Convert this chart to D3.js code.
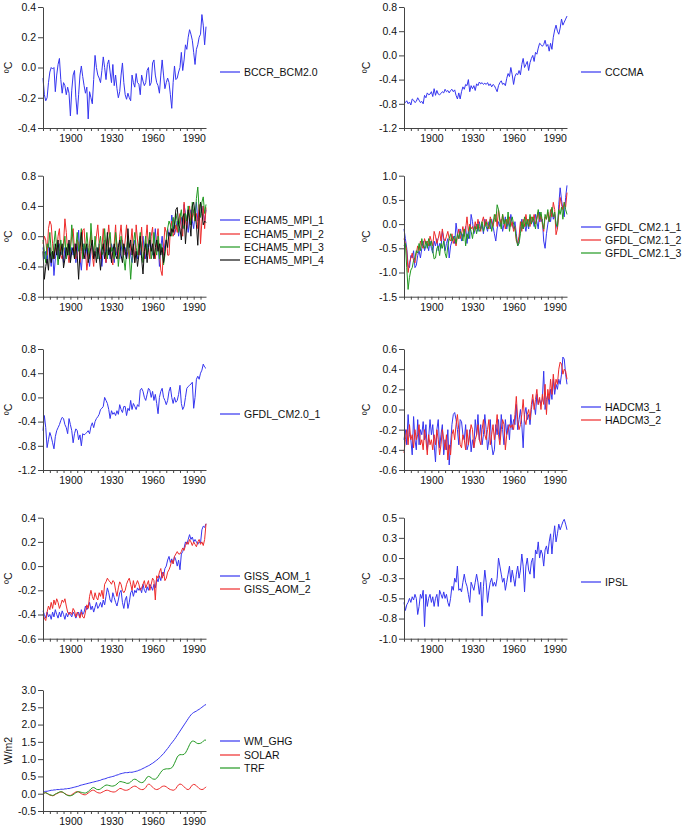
<!DOCTYPE html>
<html><head><meta charset="utf-8">
<script src="https://cdn.jsdelivr.net/npm/d3@7"></script>
<style>body{margin:0;background:#fff}svg{display:block;font-family:"Liberation Sans",Arial,sans-serif}</style>
</head><body><svg id="c" width="686" height="830"></svg>
<script>
// ---------- data ----------
const firstYear = 1880;
const xTickYears = [1900, 1930, 1960, 1990];

const bccr = [
-0.07,-0.18,-0.22,-0.2,-0.1,-0.03,0.0,-0.01,0.0,-0.16,
-0.05,0.02,0.06,-0.08,-0.17,-0.1,-0.12,-0.18,-0.13,-0.17,
-0.32,-0.15,-0.05,-0.02,-0.2,-0.31,-0.18,-0.05,0.01,-0.06,
-0.12,-0.17,-0.13,-0.34,-0.16,-0.2,-0.24,-0.08,0.08,0.0,
-0.05,-0.07,-0.1,-0.02,0.07,0.0,-0.08,0.02,0.05,-0.03,
-0.1,0.02,-0.12,-0.05,-0.14,-0.2,-0.16,-0.05,0.03,-0.1,
-0.18,-0.21,-0.17,-0.2,-0.22,-0.05,-0.1,-0.13,-0.04,-0.1,
-0.11,-0.18,-0.05,-0.09,-0.12,-0.1,-0.02,0.0,-0.12,-0.1,
0.03,0.05,-0.05,-0.1,-0.12,-0.17,-0.05,0.05,-0.05,-0.14,
-0.1,-0.07,-0.1,-0.18,-0.27,-0.1,0.01,-0.08,-0.07,-0.03,
0.0,0.1,-0.02,0.05,0.15,0.12,0.2,0.25,0.22,0.18,
0.1,0.02,0.12,0.15,0.2,0.22,0.35,0.28,0.15,0.27];

const cccma = [
-0.8,-0.78,-0.75,-0.8,-0.77,-0.82,-0.72,-0.74,-0.78,-0.76,
-0.7,-0.74,-0.78,-0.76,-0.8,-0.66,-0.7,-0.62,-0.65,-0.64,
-0.6,-0.68,-0.55,-0.66,-0.58,-0.64,-0.65,-0.63,-0.6,-0.62,
-0.56,-0.6,-0.58,-0.62,-0.58,-0.56,-0.6,-0.57,-0.66,-0.72,
-0.62,-0.72,-0.6,-0.52,-0.56,-0.48,-0.5,-0.4,-0.6,-0.5,
-0.55,-0.5,-0.58,-0.47,-0.5,-0.44,-0.47,-0.45,-0.48,-0.46,
-0.48,-0.45,-0.5,-0.47,-0.52,-0.48,-0.5,-0.55,-0.6,-0.5,
-0.45,-0.42,-0.48,-0.46,-0.5,-0.38,-0.3,-0.35,-0.2,-0.32,
-0.48,-0.35,-0.3,-0.32,-0.25,-0.32,-0.15,-0.05,-0.2,-0.15,
-0.1,-0.25,-0.12,-0.05,0.0,-0.1,0.05,0.02,0.12,0.2,
0.18,0.15,0.18,0.25,0.15,0.18,0.07,0.2,0.1,0.3,
0.42,0.5,0.4,0.35,0.45,0.6,0.5,0.55,0.6,0.65];

const echam1 = [
-0.15,-0.3,-0.2,-0.35,-0.1,-0.25,-0.4,-0.2,-0.52,-0.3,
-0.15,-0.3,-0.1,-0.25,-0.2,-0.35,-0.15,-0.3,-0.2,-0.1,
-0.3,-0.15,-0.25,-0.1,-0.35,-0.2,0.08,-0.3,-0.45,-0.2,
-0.1,-0.3,-0.15,-0.25,-0.4,-0.2,-0.1,-0.3,-0.2,-0.15,
-0.3,-0.1,-0.25,-0.4,-0.2,-0.05,-0.35,-0.2,-0.15,-0.3,
-0.1,-0.2,-0.35,-0.15,-0.25,-0.1,-0.3,-0.2,-0.05,-0.25,
-0.15,-0.3,-0.2,-0.1,-0.25,-0.35,-0.15,-0.05,-0.2,-0.3,
-0.1,-0.25,-0.15,0.0,-0.2,-0.3,-0.1,-0.2,0.05,-0.15,
-0.25,-0.1,0.1,-0.2,-0.05,-0.4,-0.15,0.0,-0.25,-0.1,
-0.05,0.1,0.0,0.05,0.28,0.15,0.02,0.1,0.2,0.0,
0.15,0.25,0.1,0.42,0.3,0.2,0.05,0.25,0.35,0.2,
0.1,0.3,0.45,0.2,0.35,0.25,0.4,0.3,0.2,0.35];

const echam2 = [
-0.1,0.0,-0.05,-0.25,0.1,0.2,0.15,-0.1,-0.3,-0.15,
-0.2,0.0,0.1,-0.25,-0.3,-0.1,0.23,0.05,-0.2,-0.35,
-0.15,0.0,0.1,-0.2,-0.3,-0.05,-0.1,-0.35,-0.2,0.08,
0.1,-0.2,-0.45,-0.3,-0.1,0.05,-0.25,-0.4,-0.15,0.0,
0.15,-0.1,-0.3,-0.15,0.1,-0.2,-0.35,-0.05,0.15,-0.1,
-0.3,-0.38,-0.1,0.15,-0.2,-0.3,0.0,0.15,-0.1,-0.25,
-0.05,0.15,-0.15,-0.3,-0.1,0.1,-0.2,-0.35,0.15,-0.05,
-0.25,-0.1,0.12,-0.2,-0.3,-0.05,0.15,-0.15,-0.3,0.0,
0.12,-0.2,-0.3,-0.05,0.1,-0.2,-0.45,-0.52,-0.15,0.12,
0.05,-0.25,-0.25,0.1,0.2,0.0,0.05,0.15,0.05,0.2,
0.3,0.1,0.0,0.45,0.2,0.1,0.3,0.4,0.15,0.25,
0.35,0.2,0.3,0.1,0.42,-0.1,0.2,0.4,0.1,0.38];

const echam3 = [
-0.05,-0.2,-0.35,-0.1,-0.15,0.05,-0.2,-0.3,-0.1,0.07,
-0.15,-0.38,-0.2,-0.05,-0.25,-0.15,0.0,-0.3,-0.1,-0.25,
-0.2,0.15,-0.1,-0.3,-0.15,0.05,-0.2,-0.1,0.1,-0.3,
-0.1,-0.2,0.05,-0.15,-0.3,0.17,-0.1,-0.25,0.0,-0.2,
-0.3,-0.1,0.0,-0.25,-0.2,0.1,-0.15,-0.3,-0.05,0.05,
-0.2,-0.15,-0.3,0.05,-0.1,-0.4,-0.2,0.0,-0.15,-0.3,
-0.45,-0.2,0.0,-0.25,-0.57,-0.3,-0.1,0.05,-0.15,-0.25,
-0.1,0.05,-0.2,-0.35,-0.15,0.0,-0.25,-0.1,0.05,-0.3,
-0.2,0.05,-0.15,-0.25,0.0,-0.3,-0.1,-0.2,-0.38,-0.25,
-0.05,0.1,0.2,0.15,0.0,0.25,0.1,0.3,0.2,0.05,
0.25,0.35,0.15,0.1,0.3,0.2,0.4,0.25,0.15,0.45,
0.3,0.2,0.5,0.65,0.35,0.25,0.45,0.52,0.3,0.42];

const echam4 = [
-0.2,-0.57,-0.4,-0.3,-0.45,-0.15,-0.35,-0.2,-0.3,-0.1,
-0.25,-0.05,-0.3,-0.2,-0.1,-0.42,-0.3,-0.15,-0.25,-0.05,
-0.35,-0.2,-0.15,-0.3,-0.1,-0.25,-0.57,-0.2,0.05,-0.15,
-0.3,-0.2,-0.1,-0.35,-0.25,-0.15,-0.05,-0.3,-0.2,-0.35,
-0.15,-0.25,-0.45,-0.2,-0.1,-0.3,-0.2,0.05,-0.25,-0.15,
-0.35,-0.2,-0.1,-0.25,-0.3,-0.15,-0.05,-0.25,-0.35,-0.1,
-0.2,-0.3,0.1,-0.15,-0.05,-0.25,-0.1,-0.35,-0.2,-0.4,
-0.25,0.0,-0.3,-0.5,-0.2,-0.1,-0.35,-0.15,-0.05,-0.2,
-0.1,-0.3,-0.15,-0.05,-0.2,-0.1,-0.25,-0.15,-0.35,-0.2,
-0.05,-0.15,0.05,0.0,0.1,0.05,0.15,0.35,0.38,0.15,
0.1,-0.05,0.25,0.3,-0.1,0.15,0.35,0.2,0.0,0.4,
0.45,0.3,0.15,-0.12,0.25,0.45,0.3,0.15,0.2,0.18];

const gfdl21_1 = [
-0.1,-0.3,-0.5,-0.85,-0.9,-0.65,-0.7,-0.55,-0.9,-0.85,
-0.65,-0.55,-0.7,-0.5,-0.35,-0.55,-0.45,-0.4,-0.55,-0.35,
-0.5,-0.6,-0.35,-0.45,-0.3,-0.55,-0.4,-0.5,-0.15,-0.3,
-0.55,-0.4,-0.3,-0.7,-0.45,-0.35,-0.25,-0.4,0.02,-0.2,
-0.3,-0.1,-0.35,-0.2,-0.25,-0.05,-0.4,-0.15,-0.3,0.2,
0.05,-0.2,-0.1,0.0,-0.15,0.05,-0.1,0.0,-0.2,0.1,
-0.05,-0.15,0.05,-0.1,0.1,-0.05,-0.2,-0.35,-0.1,0.05,
-0.05,0.1,-0.15,0.0,0.15,-0.1,0.05,-0.05,0.2,0.0,
-0.1,0.05,-0.2,-0.45,-0.35,-0.05,0.1,-0.1,0.0,-0.15,
0.05,-0.1,0.15,0.0,0.1,-0.05,0.2,0.05,-0.1,0.25,
0.05,0.1,-0.35,-0.5,-0.2,0.0,0.15,0.05,0.3,0.1,
0.2,0.0,-0.1,0.4,0.75,0.5,0.3,0.15,0.55,0.8];

const gfdl21_2 = [
-0.3,-0.4,-0.55,-1.0,-0.8,-0.7,-0.6,-0.75,-0.8,-0.6,
-0.45,-0.55,-0.35,-0.45,-0.5,-0.3,-0.4,-0.35,-0.45,-0.25,
-0.35,-0.45,-0.15,-0.25,-0.4,-0.3,-0.15,-0.35,-0.1,-0.3,
-0.35,-0.25,-0.15,-0.3,-0.35,-0.2,-0.4,-0.3,-0.45,-0.25,
-0.1,-0.3,-0.2,-0.05,-0.25,-0.1,0.15,-0.15,0.0,-0.1,
-0.05,-0.15,0.05,-0.1,0.1,-0.05,-0.15,0.05,0.15,-0.05,
0.1,0.0,-0.1,0.15,0.05,-0.05,0.1,0.2,-0.05,0.3,
0.1,0.0,0.2,0.05,-0.1,0.1,0.0,0.15,-0.05,0.05,
-0.15,-0.05,-0.35,-0.4,-0.25,0.05,-0.15,0.1,-0.05,0.2,
0.0,0.1,-0.05,0.15,0.05,0.2,0.0,0.1,0.25,0.05,
0.2,0.0,-0.15,0.15,0.1,0.25,0.05,0.3,0.15,0.45,
0.3,-0.22,-0.1,0.2,0.55,0.4,0.3,0.45,0.35,0.65];

const gfdl21_3 = [
-0.45,-0.4,-0.9,-1.35,-1.1,-0.95,-0.9,-0.75,-0.7,-0.55,
-0.6,-0.4,-0.55,-0.3,-0.45,-0.5,-0.35,-0.5,-0.3,-0.45,
-0.35,-0.55,-0.72,-0.7,-0.5,-0.45,-0.65,-0.4,-0.5,-0.35,
-0.6,-0.7,-0.45,-0.3,-0.2,-0.35,-0.3,-0.25,-0.4,-0.2,
-0.3,-0.15,-0.2,-0.35,-0.1,-0.45,-0.2,-0.3,-0.05,-0.15,
-0.3,-0.1,-0.05,-0.2,0.0,-0.15,-0.1,0.05,-0.15,-0.05,
0.05,-0.1,-0.05,0.1,-0.15,0.0,0.2,0.05,0.4,0.3,
0.05,-0.1,0.2,0.0,0.1,-0.05,0.25,-0.15,0.05,0.15,
0.0,-0.1,-0.3,-0.45,-0.4,-0.2,0.05,-0.1,0.15,-0.05,
0.1,-0.05,0.2,0.0,0.15,0.05,-0.1,0.15,0.3,0.1,
0.25,0.05,-0.1,0.2,0.1,0.3,0.05,0.2,0.35,0.15,
0.25,0.0,-0.05,0.3,0.2,0.35,0.1,0.45,0.3,0.2];

const gfdl20 = [
-0.55,-0.3,-0.5,-0.83,-0.7,-0.58,-0.65,-0.75,-0.85,-0.65,
-0.55,-0.5,-0.45,-0.38,-0.33,-0.35,-0.45,-0.5,-0.6,-0.35,
-0.45,-0.55,-0.75,-0.6,-0.52,-0.55,-0.7,-0.62,-0.8,-0.6,
-0.62,-0.6,-0.58,-0.55,-0.6,-0.48,-0.42,-0.5,-0.4,-0.35,
-0.32,-0.28,-0.2,-0.18,-0.15,0.0,-0.05,-0.1,-0.2,-0.35,
-0.22,-0.28,-0.25,-0.3,-0.22,-0.28,-0.12,-0.2,-0.25,-0.15,
-0.15,-0.3,-0.18,-0.22,-0.05,-0.2,-0.1,-0.15,-0.2,-0.12,
-0.15,0.12,0.15,0.1,0.0,-0.05,0.05,0.15,0.12,0.0,
0.1,-0.05,0.05,-0.1,-0.27,0.0,0.1,0.15,0.0,-0.05,
-0.12,-0.05,0.1,0.17,0.0,-0.1,0.0,-0.08,-0.05,0.05,
0.2,-0.1,-0.2,-0.15,0.0,0.15,0.18,0.2,0.22,0.25,
-0.18,0.0,0.3,0.35,0.3,0.4,0.45,0.55,0.5,0.48];

const hadcm3_1 = [
-0.3,-0.2,-0.35,-0.05,-0.25,-0.3,-0.45,-0.07,-0.3,-0.4,
-0.1,-0.35,-0.2,-0.25,-0.12,-0.3,-0.15,-0.4,-0.28,-0.1,
-0.25,-0.15,-0.35,-0.52,-0.2,-0.1,-0.38,-0.25,-0.15,-0.45,
-0.3,-0.4,-0.2,-0.55,-0.35,-0.15,-0.05,-0.03,-0.1,-0.2,
-0.35,-0.1,-0.12,-0.25,-0.3,-0.15,-0.4,-0.35,-0.2,-0.42,
-0.3,-0.38,-0.1,-0.25,-0.05,-0.3,-0.15,-0.35,-0.25,-0.05,
-0.2,-0.4,-0.3,-0.1,-0.35,-0.45,-0.4,-0.15,-0.25,-0.1,
-0.3,-0.05,-0.2,-0.35,-0.1,-0.25,-0.15,-0.3,-0.05,-0.2,
-0.1,-0.15,0.05,-0.2,-0.1,0.0,-0.15,-0.38,-0.05,0.02,
-0.1,-0.05,-0.15,0.0,0.1,0.05,-0.05,0.15,0.05,0.1,
0.05,0.1,0.38,0.0,0.1,0.15,0.05,0.2,0.1,0.3,
0.15,0.25,0.2,0.3,0.25,0.35,0.52,0.5,0.35,0.25];

const hadcm3_2 = [
-0.43,-0.3,-0.2,-0.35,-0.15,-0.3,-0.25,-0.38,-0.2,-0.3,
-0.25,-0.15,-0.35,-0.3,-0.4,-0.2,-0.3,-0.45,-0.25,-0.35,
-0.3,-0.4,-0.25,-0.35,-0.2,-0.3,-0.45,-0.35,-0.2,-0.3,
-0.4,-0.25,-0.5,-0.35,-0.45,-0.25,-0.2,-0.3,-0.15,-0.05,
-0.2,-0.35,-0.38,-0.25,-0.3,-0.4,-0.2,-0.35,-0.25,-0.15,
-0.2,-0.38,-0.3,-0.25,-0.15,-0.3,-0.35,-0.2,-0.1,-0.25,
-0.3,-0.2,-0.1,-0.35,-0.25,-0.15,-0.3,-0.2,-0.05,-0.25,
-0.35,-0.2,-0.1,-0.15,-0.4,-0.25,-0.2,-0.15,-0.18,-0.15,
-0.2,-0.05,0.13,-0.1,-0.2,-0.15,-0.05,0.1,-0.1,-0.15,
-0.05,0.0,-0.1,0.05,0.15,0.0,0.1,0.2,0.05,0.12,
0.0,0.15,0.05,0.25,-0.05,0.2,0.1,0.3,0.15,0.35,
0.2,0.3,0.25,0.4,0.47,0.45,0.35,0.4,0.38,0.3];

const giss1 = [
-0.37,-0.4,-0.43,-0.38,-0.42,-0.4,-0.44,-0.38,-0.42,-0.36,
-0.4,-0.43,-0.38,-0.42,-0.37,-0.4,-0.44,-0.39,-0.42,-0.38,
-0.4,-0.42,-0.38,-0.4,-0.43,-0.4,-0.38,-0.42,-0.36,-0.4,
-0.38,-0.33,-0.36,-0.34,-0.3,-0.36,-0.33,-0.38,-0.34,-0.3,
-0.35,-0.33,-0.3,-0.34,-0.28,-0.32,-0.25,-0.18,-0.22,-0.28,
-0.3,-0.22,-0.26,-0.3,-0.33,-0.28,-0.22,-0.2,-0.3,-0.35,
-0.28,-0.25,-0.35,-0.3,-0.22,-0.2,-0.25,-0.2,-0.22,-0.18,
-0.2,-0.18,-0.22,-0.15,-0.2,-0.22,-0.17,-0.2,-0.15,-0.17,
-0.2,-0.15,-0.18,-0.1,-0.13,-0.08,-0.12,-0.05,-0.08,-0.02,
0.0,0.05,0.08,0.03,0.06,0.02,0.08,0.05,0.0,0.05,
-0.03,0.1,0.12,0.15,0.2,0.18,0.22,0.26,0.22,0.24,
0.2,0.22,0.2,0.18,0.2,0.19,0.3,0.33,0.32,0.35];

const giss2 = [
-0.4,-0.43,-0.45,-0.38,-0.33,-0.36,-0.3,-0.35,-0.28,-0.32,
-0.27,-0.3,-0.35,-0.32,-0.28,-0.3,-0.27,-0.33,-0.38,-0.4,
-0.38,-0.4,-0.35,-0.37,-0.42,-0.38,-0.4,-0.43,-0.38,-0.42,
-0.43,-0.38,-0.32,-0.35,-0.25,-0.2,-0.25,-0.28,-0.22,-0.26,
-0.28,-0.22,-0.25,-0.2,-0.27,-0.15,-0.13,-0.1,-0.12,-0.13,
-0.15,-0.12,-0.13,-0.2,-0.25,-0.18,-0.13,-0.15,-0.2,-0.22,
-0.2,-0.15,-0.12,-0.1,-0.15,-0.2,-0.12,-0.18,-0.15,-0.12,
-0.15,-0.2,-0.18,-0.15,-0.12,-0.18,-0.15,-0.12,-0.2,-0.15,
-0.1,-0.12,-0.28,-0.08,-0.1,-0.05,-0.02,-0.1,-0.05,-0.12,
-0.1,-0.05,-0.03,0.0,0.05,0.02,0.08,0.1,0.12,0.1,
0.1,0.12,0.15,0.13,0.17,0.2,0.18,0.22,0.2,0.17,
0.2,0.18,0.16,0.2,0.22,0.18,0.2,0.17,0.22,0.35];

const ipsl = [
-0.55,-0.65,-0.58,-0.55,-0.5,-0.55,-0.48,-0.52,-0.45,-0.5,
-0.7,-0.6,-0.45,-0.5,-0.4,-0.85,-0.45,-0.6,-0.5,-0.45,
-0.55,-0.48,-0.6,-0.5,-0.45,-0.6,-0.4,-0.45,-0.5,-0.42,
-0.5,-0.45,-0.55,-0.6,-0.5,-0.35,-0.4,-0.25,-0.3,-0.1,
-0.4,-0.38,-0.42,-0.3,-0.2,-0.3,-0.35,-0.45,-0.55,-0.3,
-0.35,-0.4,-0.3,-0.2,-0.3,-0.45,-0.3,-0.72,-0.35,-0.15,
-0.3,-0.55,-0.4,-0.3,-0.25,-0.35,-0.3,-0.35,-0.25,0.0,
-0.1,-0.2,-0.3,-0.25,-0.4,-0.3,-0.2,-0.1,-0.3,-0.15,
-0.25,-0.35,-0.2,-0.1,-0.25,-0.15,0.05,-0.1,-0.42,-0.1,
0.0,-0.15,-0.2,-0.05,0.0,-0.25,0.1,0.05,0.2,0.0,
0.1,0.05,-0.1,0.1,0.15,0.05,0.2,0.3,0.05,0.25,
0.4,0.2,0.3,0.42,0.35,0.4,0.45,0.48,0.42,0.35];

const wmghg = [
0.05,0.06,0.07,0.07,0.08,0.09,0.1,0.1,0.11,0.11,
0.12,0.12,0.12,0.13,0.13,0.13,0.14,0.14,0.15,0.15,
0.16,0.17,0.18,0.19,0.2,0.21,0.22,0.24,0.25,0.26,
0.27,0.28,0.29,0.3,0.31,0.32,0.33,0.34,0.35,0.36,
0.37,0.38,0.39,0.41,0.42,0.43,0.44,0.46,0.47,0.48,
0.49,0.5,0.51,0.53,0.54,0.55,0.57,0.58,0.59,0.6,
0.61,0.61,0.61,0.62,0.62,0.62,0.63,0.64,0.65,0.66,
0.68,0.69,0.71,0.73,0.75,0.77,0.79,0.81,0.83,0.86,
0.88,0.91,0.94,0.97,1.0,1.04,1.08,1.12,1.16,1.21,
1.26,1.31,1.36,1.42,1.47,1.52,1.57,1.63,1.69,1.75,
1.81,1.87,1.93,1.99,2.05,2.11,2.17,2.23,2.28,2.32,
2.35,2.37,2.39,2.42,2.44,2.47,2.5,2.53,2.56,2.58];

const solar = [
0.0,0.02,0.03,0.01,-0.02,-0.04,-0.05,-0.06,-0.05,-0.02,
0.0,0.02,0.04,0.05,0.05,0.03,0.0,-0.02,-0.04,-0.05,
-0.05,-0.03,0.0,0.03,0.05,0.06,0.05,0.03,0.0,-0.02,
-0.03,-0.03,-0.01,0.02,0.05,0.08,0.1,0.1,0.08,0.05,
0.03,0.02,0.02,0.04,0.06,0.08,0.1,0.1,0.09,0.07,
0.06,0.05,0.05,0.06,0.09,0.12,0.15,0.15,0.13,0.11,
0.1,0.1,0.11,0.13,0.16,0.19,0.21,0.22,0.21,0.18,
0.15,0.13,0.12,0.12,0.14,0.18,0.24,0.28,0.27,0.23,
0.19,0.15,0.13,0.12,0.13,0.15,0.18,0.21,0.22,0.22,
0.2,0.17,0.14,0.12,0.11,0.1,0.11,0.15,0.21,0.26,
0.28,0.27,0.24,0.2,0.16,0.13,0.12,0.14,0.2,0.25,
0.27,0.26,0.23,0.19,0.15,0.13,0.12,0.13,0.16,0.2];

const trf = [
0.0,0.02,0.03,0.01,-0.01,-0.03,-0.04,-0.05,-0.04,-0.01,
0.01,0.03,0.05,0.06,0.05,0.03,0.0,-0.03,-0.05,-0.06,
-0.06,-0.05,-0.03,0.0,0.03,0.05,0.06,0.05,0.04,0.03,
0.02,0.02,0.04,0.06,0.1,0.14,0.17,0.18,0.16,0.13,
0.12,0.12,0.14,0.17,0.2,0.23,0.25,0.25,0.24,0.23,
0.22,0.22,0.23,0.25,0.28,0.32,0.35,0.35,0.34,0.33,
0.32,0.3,0.3,0.31,0.34,0.38,0.41,0.42,0.41,0.38,
0.35,0.33,0.32,0.33,0.36,0.42,0.48,0.5,0.49,0.46,
0.43,0.42,0.42,0.45,0.5,0.56,0.62,0.67,0.7,0.71,
0.72,0.72,0.72,0.73,0.75,0.8,0.88,0.97,1.06,1.11,
1.13,1.13,1.13,1.14,1.18,1.25,1.33,1.42,1.49,1.52,
1.52,1.5,1.47,1.45,1.45,1.46,1.48,1.52,1.55,1.55];

// tick values and labels per panel
const ticksBCCR = [0.4,0.2,0,-0.2,-0.4],      labelsBCCR = ["0.4","0.2","0.0","-0.2","-0.4"];
const ticksCCCMA = [0.8,0.4,0,-0.4,-0.8,-1.2], labelsCCCMA = ["0.8","0.4","0.0","-0.4","-0.8","-1.2"];
const ticksECHAM = [0.8,0.4,0,-0.4,-0.8],     labelsECHAM = ["0.8","0.4","0.0","-0.4","-0.8"];
const ticksGFDL21 = [1.0,0.5,0,-0.5,-1.0,-1.5], labelsGFDL21 = ["1.0","0.5","0.0","-0.5","-1.0","-1.5"];
const ticksGFDL20 = [0.8,0.4,0,-0.4,-0.8,-1.2], labelsGFDL20 = ["0.8","0.4","0.0","-0.4","-0.8","-1.2"];
const ticksHAD = [0.6,0.4,0.2,0,-0.2,-0.4,-0.6], labelsHAD = ["0.6","0.4","0.2","0.0","-0.2","-0.4","-0.6"];
const ticksGISS = [0.4,0.2,0,-0.2,-0.4,-0.6], labelsGISS = ["0.4","0.2","0.0","-0.2","-0.4","-0.6"];
const ticksIPSL = [0.5,0.25,0,-0.25,-0.5,-0.75,-1.0], labelsIPSL = ["0.5","0.3","0.0","-0.3","-0.5","-0.8","-1.0"];
const ticksFORC = [3.0,2.5,2.0,1.5,1.0,0.5,0,-0.5], labelsFORC = ["3.0","2.5","2.0","1.5","1.0","0.5","0.0","-0.5"];

// ---------- styling / layout ----------
const BLUE = "#3535f0", RED = "#ee2a2a", GREEN = "#229922", BLACK = "#111111";
const colAxisX = [43, 404];
const plotW = 163;
const rowTop = [7, 175.7, 349, 517.7, 690];
const plotH = 121;
const unitX = [8, 366];
const FS = 10.5;

const panels = [
  {col:0,row:0,unit:"ºC",ticks:ticksBCCR,labels:labelsBCCR,series:[["BCCR_BCM2.0",bccr,BLUE]]},
  {col:1,row:0,unit:"ºC",ticks:ticksCCCMA,labels:labelsCCCMA,series:[["CCCMA",cccma,BLUE]]},
  {col:0,row:1,unit:"ºC",ticks:ticksECHAM,labels:labelsECHAM,series:[["ECHAM5_MPI_1",echam1,BLUE],["ECHAM5_MPI_2",echam2,RED],["ECHAM5_MPI_3",echam3,GREEN],["ECHAM5_MPI_4",echam4,BLACK]]},
  {col:1,row:1,unit:"ºC",ticks:ticksGFDL21,labels:labelsGFDL21,series:[["GFDL_CM2.1_1",gfdl21_1,BLUE],["GFDL_CM2.1_2",gfdl21_2,RED],["GFDL_CM2.1_3",gfdl21_3,GREEN]]},
  {col:0,row:2,unit:"ºC",ticks:ticksGFDL20,labels:labelsGFDL20,series:[["GFDL_CM2.0_1",gfdl20,BLUE]]},
  {col:1,row:2,unit:"ºC",ticks:ticksHAD,labels:labelsHAD,series:[["HADCM3_1",hadcm3_1,BLUE],["HADCM3_2",hadcm3_2,RED]]},
  {col:0,row:3,unit:"ºC",ticks:ticksGISS,labels:labelsGISS,series:[["GISS_AOM_1",giss1,BLUE],["GISS_AOM_2",giss2,RED]]},
  {col:1,row:3,unit:"ºC",ticks:ticksIPSL,labels:labelsIPSL,series:[["IPSL",ipsl,BLUE]]},
  {col:0,row:4,unit:"W/m2",ticks:ticksFORC,labels:labelsFORC,series:[["WM_GHG",wmghg,BLUE],["SOLAR",solar,RED],["TRF",trf,GREEN]]}
];

const svg = d3.select("#c");
const xTicksAll = d3.range(firstYear, 2000, 5);

panels.forEach(p => {
  const x0 = colAxisX[p.col], y0 = rowTop[p.row];
  const yMin = d3.min(p.ticks), yMax = d3.max(p.ticks);
  const x = d3.scaleLinear().domain([firstYear, firstYear + 119]).range([x0, x0 + plotW]);
  const y = d3.scaleLinear().domain([yMin, yMax]).range([y0 + plotH, y0]);
  const g = svg.append("g");

  // lines
  p.series.forEach(([name, data, color]) => {
    g.append("path")
      .datum(data)
      .attr("fill", "none")
      .attr("stroke", color)
      .attr("stroke-width", 1)
      .attr("stroke-linejoin", "round")
      .attr("d", d3.line().x((d, i) => x(firstYear + i)).y(d => y(d)));
  });

  // y axis
  const ya = g.append("g").attr("transform", `translate(${x0},0)`)
    .call(d3.axisLeft(y).tickValues(p.ticks).tickFormat((d, i) => p.labels[i]).tickSize(5).tickSizeOuter(0).tickPadding(2));
  // x axis
  const xa = g.append("g").attr("transform", `translate(0,${y0 + plotH})`)
    .call(d3.axisBottom(x).tickValues(xTicksAll).tickFormat(d => xTickYears.includes(d) ? d : "").tickSize(3).tickSizeOuter(0).tickPadding(4));
  [ya, xa].forEach(a => {
    a.select(".domain").attr("stroke", "#444");
    a.selectAll(".tick line").attr("stroke", "#444");
    a.selectAll("text").attr("font-size", FS).attr("fill", "#111").attr("font-family", "Liberation Sans, Arial, sans-serif");
  });

  // unit label
  const cy = y0 + plotH / 2;
  g.append("text")
    .attr("transform", `translate(${unitX[p.col]},${cy}) rotate(-90)`)
    .attr("text-anchor", "middle").attr("dy", "0.35em")
    .attr("font-size", FS).attr("fill", "#111")
    .text(p.unit);

  // legend
  const lx = x0 + plotW + 14;
  const n = p.series.length, sp = 13.3;
  const ly0 = cy + 4 - (n - 1) * sp / 2;
  p.series.forEach(([name, data, color], i) => {
    const ly = Math.round(ly0 + i * sp);
    g.append("line").attr("x1", lx).attr("x2", lx + 20).attr("y1", ly).attr("y2", ly)
      .attr("stroke", color).attr("stroke-width", 1.2);
    g.append("text").attr("x", lx + 24).attr("y", ly).attr("dy", "0.35em")
      .attr("font-size", FS).attr("fill", "#111").text(name);
  });
});
</script>
</body></html>
